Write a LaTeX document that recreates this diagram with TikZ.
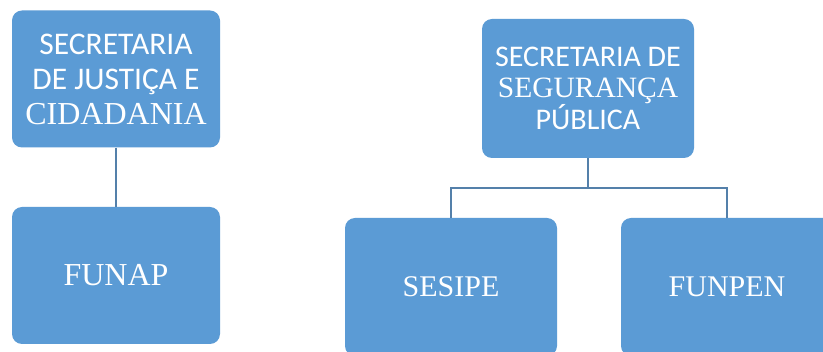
\documentclass[tikz,border=0pt]{standalone}
\usepackage{fontspec}
\setmainfont{Liberation Serif}
\setsansfont{Carlito}
\definecolor{boxblue}{HTML}{5B9BD5}
\definecolor{linecol}{RGB}{84,128,170}
\begin{document}
\begin{tikzpicture}[x=1pt,y=-1pt,
  box/.style={draw=none,fill=boxblue,rounded corners=10pt,text=white,align=center,inner sep=0pt},
  conn/.style={draw=linecol,line width=1.6pt}]
\path[use as bounding box,fill=white] (0,0) rectangle (823,352);
\clip (0,0) rectangle (823,352);
\node[box,minimum width=208pt,minimum height=137pt,font=\fontsize{31.5}{35}\selectfont] (sjc) at (116,79)
  {\sffamily SECRETARIA\\\sffamily DE JUSTIÇA E\\\rmfamily\fontsize{32}{35}\selectfont CIDADANIA};
\node[box,minimum width=208pt,minimum height=137pt,font=\fontsize{32}{35}\selectfont] (funap) at (116,275.5) {FUNAP};
\node[box,minimum width=212pt,minimum height=139pt,font=\fontsize{30}{31}\selectfont] (ssp) at (588,88.5)
  {\sffamily SECRETARIA DE\\\rmfamily\fontsize{29.5}{31}\selectfont SEGURANÇA\\\sffamily PÚBLICA};
\node[box,minimum width=212pt,minimum height=138pt,font=\fontsize{30}{35}\selectfont] (sesipe) at (451,287) {SESIPE};
\node[box,minimum width=212pt,minimum height=138pt,font=\fontsize{30}{35}\selectfont] (funpen) at (727,287) {FUNPEN};
\draw[conn] (sjc.south) -- (funap.north);
\coordinate (j) at (588,188);
\draw[conn] (ssp.south) -- (j);
\draw[conn] (j) -| (sesipe.north);
\draw[conn] (j) -| (funpen.north);
\end{tikzpicture}
\end{document}
